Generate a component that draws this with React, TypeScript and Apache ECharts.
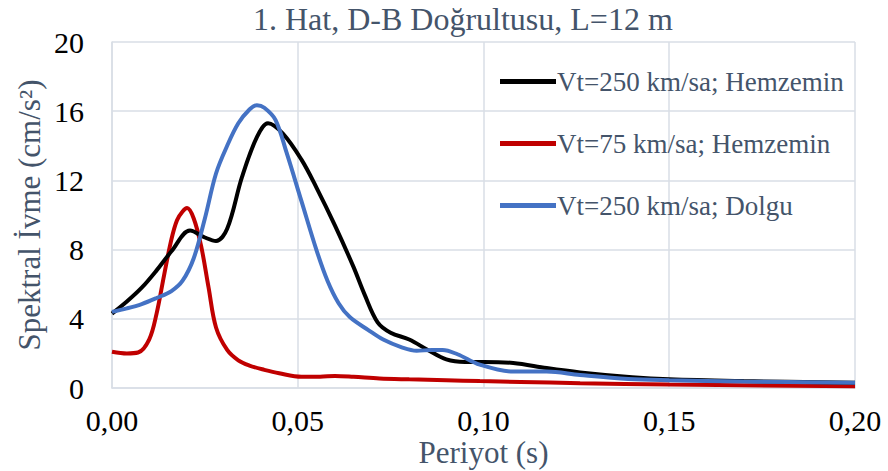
import React, { useEffect, useRef } from "react";
import * as echarts from "echarts";

const titleText = "1. Hat, D-B Doğrultusu, L=12 m";
const seriesNames = ["Vt=250 km/sa; Hemzemin", "Vt=75 km/sa; Hemzemin", "Vt=250 km/sa; Dolgu"];

const blackX = [0, 0.004, 0.008, 0.012, 0.016, 0.021, 0.025, 0.028, 0.031, 0.035, 0.039, 0.042, 0.046, 0.051, 0.055, 0.060, 0.065, 0.068, 0.0715, 0.075, 0.080, 0.085, 0.090, 0.095, 0.100, 0.108, 0.117, 0.126, 0.140, 0.150, 0.170, 0.200];
const blackY = [4.3, 5.0, 5.8, 6.8, 7.9, 9.1, 8.7, 8.5, 9.2, 12.2, 14.5, 15.3, 14.7, 13.2, 11.6, 9.4, 7.0, 5.4, 3.8, 3.2, 2.8, 2.2, 1.65, 1.5, 1.5, 1.45, 1.15, 0.9, 0.62, 0.5, 0.4, 0.3];

const redX = [0, 0.004, 0.007, 0.010, 0.012, 0.014, 0.016, 0.0175, 0.019, 0.0202, 0.022, 0.024, 0.026, 0.028, 0.031, 0.034, 0.037, 0.041, 0.045, 0.051, 0.056, 0.060, 0.065, 0.072, 0.080, 0.090, 0.099, 0.110, 0.126, 0.150, 0.200];
const redY = [2.1, 2.0, 2.05, 2.8, 4.3, 6.5, 8.6, 9.7, 10.2, 10.4, 9.8, 8.2, 5.8, 3.5, 2.2, 1.6, 1.3, 1.05, 0.85, 0.65, 0.65, 0.7, 0.65, 0.55, 0.5, 0.45, 0.4, 0.35, 0.28, 0.2, 0.1];

const blueX = [0, 0.004, 0.008, 0.012, 0.016, 0.019, 0.022, 0.025, 0.028, 0.031, 0.034, 0.037, 0.039, 0.041, 0.044, 0.047, 0.051, 0.055, 0.058, 0.061, 0.064, 0.069, 0.073, 0.078, 0.082, 0.086, 0.089, 0.093, 0.099, 0.108, 0.117, 0.126, 0.139, 0.150, 0.170, 0.200];
const blueY = [4.4, 4.6, 4.85, 5.2, 5.6, 6.2, 7.5, 9.8, 12.4, 14.0, 15.3, 16.1, 16.35, 16.2, 15.5, 13.6, 10.8, 8.0, 6.2, 4.9, 4.1, 3.35, 2.8, 2.35, 2.15, 2.2, 2.2, 1.95, 1.35, 0.95, 0.95, 0.75, 0.52, 0.45, 0.38, 0.3];

const colors = ["#000000", "#C00000", "#4472C4"];
const FONT = "Liberation Serif";
const GRAY_BLUE = "#44546A";
const GRID = "#D9DEE6";

function pairs(xs: number[], ys: number[]) {
  return xs.map((x, i) => [x, ys[i]]);
}

export default function App() {
  const ref = useRef<HTMLDivElement>(null);
  useEffect(() => {
    if (!ref.current) return;
    const chart = echarts.init(ref.current, undefined, { renderer: "svg" });
    const data = [pairs(blackX, blackY), pairs(redX, redY), pairs(blueX, blueY)];
    chart.setOption({
      animation: false,
      backgroundColor: "#ffffff",
      textStyle: { fontFamily: FONT },
      title: {
        text: titleText,
        left: 248,
        top: -2,
        textStyle: { fontFamily: FONT, fontSize: 32, fontWeight: "normal", color: GRAY_BLUE },
      },
      legend: {
        orient: "vertical",
        left: 495,
        top: 63,
        itemGap: 35,
        itemWidth: 56,
        itemHeight: 5,
        icon: "rect",
        textStyle: { fontFamily: FONT, fontSize: 27, color: GRAY_BLUE, padding: [0, 0, 0, -4] },
        data: seriesNames,
      },
      grid: { left: 112, right: 33, top: 42, bottom: 83, outerBoundsMode: "none", containLabel: false },
      xAxis: {
        type: "value",
        min: 0,
        max: 0.2,
        interval: 0.05,
        name: "Periyot (s)",
        nameLocation: "middle",
        nameGap: 49,
        nameMoveOverlap: false,
        nameTextStyle: { fontFamily: FONT, fontSize: 31, color: GRAY_BLUE },
        axisLine: { show: true, lineStyle: { color: GRID, width: 1.5 } },
        axisTick: { show: false },
        splitLine: { show: true, lineStyle: { color: GRID, width: 1.5 } },
        axisLabel: {
          fontFamily: FONT,
          fontSize: 30,
          color: "#000000",
          margin: 17,
          formatter: (v: number) => v.toFixed(2).replace(".", ","),
        },
      },
      yAxis: {
        type: "value",
        min: 0,
        max: 20,
        interval: 4,
        name: "Spektral İvme (cm/s²)",
        nameLocation: "middle",
        nameGap: 67,
        nameMoveOverlap: false,
        nameRotate: 90,
        nameTextStyle: { fontFamily: FONT, fontSize: 31, color: GRAY_BLUE },
        axisLine: { show: true, lineStyle: { color: GRID, width: 1.5 } },
        axisTick: { show: false },
        splitLine: { show: true, lineStyle: { color: GRID, width: 1.5 } },
        axisLabel: { fontFamily: FONT, fontSize: 30, color: "#000000", margin: 28 },
      },
      series: seriesNames.map((name, i) => ({
        name,
        type: "line",
        data: data[i],
        smooth: 0.35,
        showSymbol: false,
        symbol: "none",
        color: colors[i],
        lineStyle: { color: colors[i], width: 4 },
        z: i === 2 ? 3 : i === 0 ? 2 : 1,
      })),
    });
    return () => chart.dispose();
  }, []);
  return <div ref={ref} style={{ position: "fixed", left: 0, top: 0, width: 888, height: 471 }} />;
}
